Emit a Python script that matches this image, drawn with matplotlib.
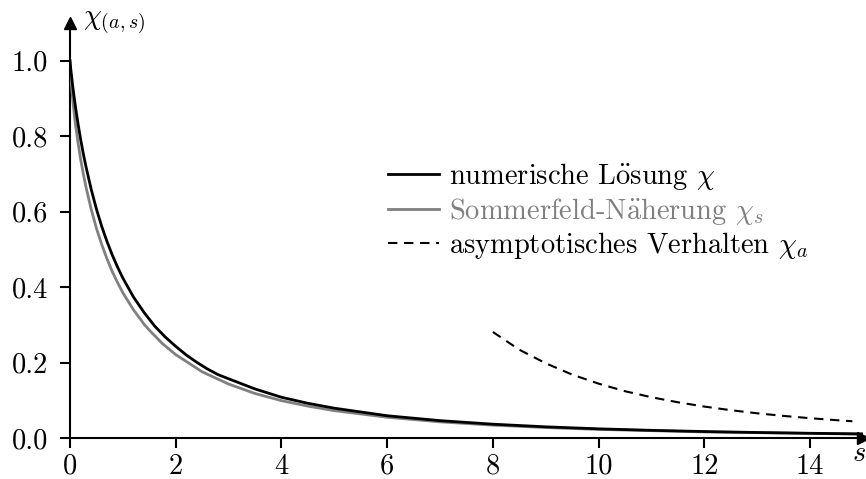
import matplotlib
matplotlib.use("Agg")
import matplotlib.pyplot as plt

# numerical solution chi (Thomas-Fermi)
s_num = [0, 0.005, 0.01, 0.02, 0.05, 0.07, 0.1, 0.15, 0.2, 0.25, 0.3, 0.4, 0.5, 0.6, 0.7,
         0.8, 0.9, 1.0, 1.2, 1.4, 1.6, 1.8, 2.0, 2.2, 2.4, 2.6, 2.8, 3.0, 3.5, 4.0, 4.5,
         5.0, 6.0, 7.0, 8.0, 9.0, 10.0, 11.0, 12.0, 13.0, 14.0, 15.0]
chi_num = [1.0, 0.9925, 0.9855, 0.972, 0.935, 0.913, 0.882, 0.835, 0.793, 0.755, 0.721,
           0.660, 0.607, 0.561, 0.521, 0.485, 0.453, 0.424, 0.374, 0.333, 0.297, 0.268,
           0.243, 0.220, 0.2005, 0.183, 0.168, 0.157, 0.130, 0.108, 0.092, 0.079, 0.059,
           0.046, 0.0366, 0.0296, 0.0243, 0.0203, 0.0171, 0.0146, 0.0125, 0.0108]

# Sommerfeld approximation chi_s
s_som = [0, 0.005, 0.01, 0.02, 0.05, 0.07, 0.1, 0.15, 0.2, 0.25, 0.3, 0.4, 0.5, 0.6, 0.7,
         0.8, 0.9, 1.0, 1.2, 1.4, 1.5, 1.75, 2.0, 2.5, 3.0, 3.5, 4.0, 4.5, 5.0, 6.0, 7.0,
         8.0, 9.0, 10.0, 12.0, 15.0]
chi_som = [1.0, 0.982, 0.970, 0.949, 0.900, 0.873, 0.836, 0.785, 0.740, 0.702, 0.667,
           0.607, 0.556, 0.513, 0.475, 0.441, 0.412, 0.385, 0.340, 0.302, 0.286, 0.250,
           0.221, 0.1755, 0.143, 0.118, 0.099, 0.0845, 0.0725, 0.055, 0.0428, 0.034,
           0.0277, 0.0228, 0.0161, 0.0102]

# asymptotic behaviour chi_a
s_asy = [8.0, 8.5, 9.0, 9.5, 10.0, 10.5, 11.0, 11.5, 12.0, 12.5, 13.0, 13.5, 14.0, 14.5, 14.8]
chi_asy = [0.281, 0.234, 0.198, 0.168, 0.144, 0.124, 0.108, 0.0947, 0.0833, 0.0737,
           0.0655, 0.0585, 0.0525, 0.0472, 0.0444]

x_ticks = [0, 2, 4, 6, 8, 10, 12, 14]
y_ticks = [0.0, 0.2, 0.4, 0.6, 0.8, 1.0]

labels = [r"numerische L$\ddot{\mathrm{o}}$sung $\chi$",
          r"Sommerfeld-N$\ddot{\mathrm{a}}$herung $\chi_s$",
          r"asymptotisches Verhalten $\chi_a$"]

plt.rcParams["font.family"] = ["cmr10", "DejaVu Serif"]
plt.rcParams["mathtext.fontset"] = "cm"
plt.rcParams["axes.formatter.use_mathtext"] = True

FS = 20.5
fig = plt.figure(figsize=(8.66, 4.79), dpi=100)
ax = fig.add_axes([0.0808, 0.0856, 0.9157, 0.8664])

gray = "#808080"
l1, = ax.plot(s_num, chi_num, color="black", lw=2.0, zorder=4)
l2, = ax.plot(s_som, chi_som, color=gray, lw=2.0, zorder=3)
l3, = ax.plot(s_asy, chi_asy, color="black", lw=1.5, ls=(0, (4.5, 3.2)), zorder=3)

ax.set_xlim(0, 15)
ax.set_ylim(0, 1.1)
ax.set_xticks(x_ticks)
ax.set_xticklabels([str(v) for v in x_ticks])
ax.set_yticks(y_ticks)
ax.set_yticklabels([f"{v:.1f}" for v in y_ticks])

for side in ["top", "right"]:
    ax.spines[side].set_visible(False)
for side in ["left", "bottom"]:
    ax.spines[side].set_linewidth(1.5)

ax.tick_params(direction="out", length=7, width=1.5, labelsize=FS)
ax.tick_params(axis="y", pad=9)
ax.tick_params(axis="x", pad=4)

ax.plot(1, 0, ">k", markersize=9, transform=ax.get_yaxis_transform(), clip_on=False, zorder=5)
ax.plot(0, 1, "^k", markersize=9, transform=ax.get_xaxis_transform(), clip_on=False, zorder=5)

ax.text(0.016, 1.0, r"$\chi_{(a,s)}$", transform=ax.transAxes, fontsize=FS,
        ha="left", va="center")
fig.text(0.9995, 0.052, r"$s$", fontsize=FS, ha="right", va="center")

leg = ax.legend([l1, l2, l3], labels, loc="upper left", bbox_to_anchor=(0.448, 0.663),
                bbox_transform=fig.transFigure, frameon=False, fontsize=FS,
                handlelength=1.8, handletextpad=0.36, labelspacing=0.12,
                borderaxespad=0, borderpad=0)
for txt, c in zip(leg.get_texts(), ["black", gray, "black"]):
    txt.set_color(c)

fig.savefig("out.png", dpi=100)
